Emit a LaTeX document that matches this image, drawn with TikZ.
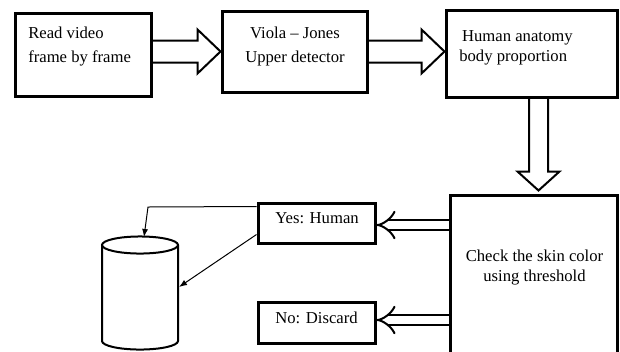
\documentclass[tikz,border=0pt]{standalone}
\usepackage{fontspec}
\setmainfont{Liberation Serif}
\usetikzlibrary{calc,arrows.meta}

\tikzset{
  box/.style={draw,line width=2.25pt,inner sep=0pt},
  txt/.style={font=\fontsize{12.5}{18}\selectfont,inner sep=0pt},
  blockarrow/.style={draw,line width=1.5pt,line join=miter},
  dblarrow/.style={double,line width=1.5pt,double distance=6pt,-{Implies}},
  thinarrow/.style={line width=0.75pt,-{Latex[length=6pt,width=4.5pt]}},
  cyl/.style={line width=1.5pt}
}

% block arrow pointing right, #1 start, #2 tip
\newcommand{\rightblock}[2]{%
  \draw[blockarrow] ($(#1)+(0,-11)$) -- ($(#2)+(-23,-11)$) -- ($(#2)+(-23,-22)$) -- (#2)
    -- ($(#2)+(-23,22)$) -- ($(#2)+(-23,11)$) -- ($(#1)+(0,11)$);}
% block arrow pointing down
\newcommand{\downblock}[2]{%
  \draw[blockarrow] ($(#1)+(-9.5,0)$) -- ($(#2)+(-9.5,-19)$) -- ($(#2)+(-21,-19)$) -- (#2)
    -- ($(#2)+(21,-19)$) -- ($(#2)+(9.5,-19)$) -- ($(#1)+(9.5,0)$);}

\begin{document}
\begin{tikzpicture}[x=0.75pt,y=-0.75pt]
\useasboundingbox (0,0) rectangle (620,351);

% boxes
\node[box,minimum width=136*0.75pt,minimum height=83*0.75pt] (read) at (83,54.5) {};
\node[box,minimum width=145*0.75pt,minimum height=81*0.75pt] (viola) at (294.5,51.5) {};
\node[box,minimum width=171*0.75pt,minimum height=87*0.75pt] (anatomy) at (531.5,53.5) {};
\node[box,minimum width=167*0.75pt,minimum height=200*0.75pt] (check) at (533.5,295) {};
\node[box,minimum width=117*0.75pt,minimum height=40*0.75pt] (yes) at (316.5,223) {};
\node[box,minimum width=117*0.75pt,minimum height=41*0.75pt] (no) at (316.5,322.5) {};

% texts
\node[txt,align=left,anchor=west] (readtxt) at (28,47) {Read video\\frame by frame};
\node[txt,align=center] (violatxt) at (295,46) {Viola -- Jones\\Upper detector};
\node[txt,align=left,anchor=west,font=\fontsize{12.5}{15}\selectfont] (anatomytxt) at (459,48) {\,Human anatomy\\body proportion};
\node[txt,align=center,font=\fontsize{12.5}{15}\selectfont] (checktxt) at (534.5,268) {Check the skin color\\using threshold};
\node[txt,anchor=base] (yestxt) at (317,223) {Yes: Human};
\node[txt,anchor=base] (notxt) at (316.5,323) {No: Discard};

% block arrows
\rightblock{read.east |- viola.west}{viola.west}
\rightblock{viola.east}{anatomy.west |- viola.east}
\coordinate (dstart) at ($(anatomy.south)+(7,0)$);
\coordinate (dtip) at ($(dstart |- check.north)+(0,-3)$);
\downblock{dstart}{dtip}

% double arrows
\draw[dblarrow] ($(check.west |- yes.east)+(0,2)$) -- ($(yes.east)+(0,2)$);
\draw[dblarrow] ($(check.west |- no.east)+(0,-2.5)$) -- ($(no.east)+(0,-2.5)$);

% database
\draw[cyl] (102,245) -- (102,341) arc[start angle=180,end angle=360,x radius=28.5pt,y radius=6.4pt] -- (178,245);
\draw[cyl] (140,245) ellipse[x radius=28.5pt,y radius=6.4pt];
\coordinate (dbtop) at (144,237);
\coordinate (dbside) at (179,287);
\coordinate (bend) at (148,207);

\draw[thinarrow] ($(yes.north west)+(0,5)$) -- (bend) -- (dbtop);
\draw[thinarrow] ($(yes.south west)+(0,-10)$) -- (dbside);
\end{tikzpicture}
\end{document}
